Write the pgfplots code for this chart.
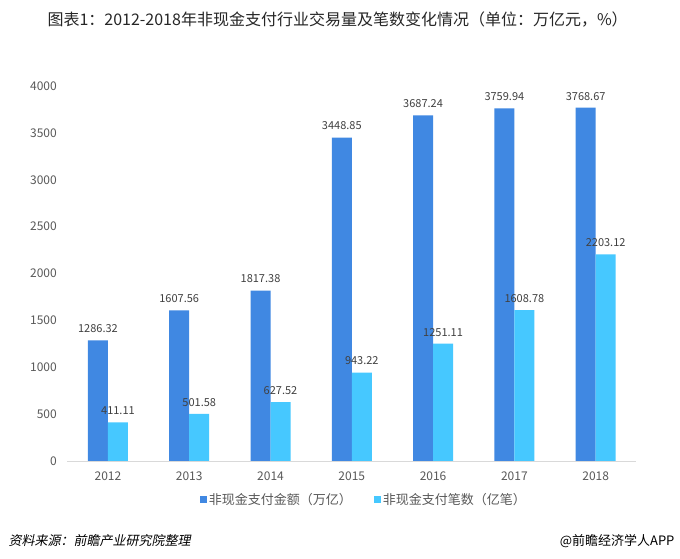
\documentclass[border=0pt]{standalone}
\usepackage{pgfplots}
\pgfplotsset{compat=1.18}
\usepackage{fontspec}
\setmainfont{Noto Sans CJK SC}
\newfontfamily\cjkit[FakeSlant=0.2]{Noto Sans CJK SC}
\definecolor{barblue}{RGB}{64,136,226}
\definecolor{barcyan}{RGB}{70,200,255}
\definecolor{ticktxt}{RGB}{89,89,89}
\definecolor{lbltxt}{RGB}{64,64,64}
\definecolor{titletxt}{RGB}{38,38,38}
\begin{document}
\begin{tikzpicture}[x=1pt,y=1pt]
\path[use as bounding box, fill=white] (0,0) rectangle (680,559);
\begin{axis}[
  at={(67.3pt,98pt)}, anchor=south west,
  scale only axis, width=569pt, height=375pt,
  xmin=-0.5, xmax=6.5, ymin=0, ymax=4000,
  axis x line*=bottom, axis y line*=left,
  x axis line style={draw=black!15, line width=0.8pt, -},
  y axis line style={draw=none},
  major tick length=0pt,
  ytick={0,500,...,4000},
  xtick={0,...,6},
  xticklabels={2012,2013,2014,2015,2016,2017,2018},
  /pgf/number format/assume math mode=true,
  /pgf/number format/1000 sep={},
  tick label style={font=\fontsize{12}{14}\selectfont, text=ticktxt},
  yticklabel style={xshift=-7pt},
  xticklabel style={yshift=-7pt},
  ybar=0pt, bar width=20pt,
  nodes near coords,
  point meta=explicit symbolic,
  every node near coord/.append style={font=\fontsize{11}{13}\selectfont, text=lbltxt, yshift=4pt},
  legend columns=2,
  legend style={at={(0.5214,-0.104)}, anchor=center, draw=none, fill=none,
    font=\fontsize{13}{15}\selectfont, text=ticktxt,
    /tikz/every even column/.append style={column sep=20pt}},
  legend image code/.code={\fill[#1] (0pt,-3.5pt) rectangle (7pt,3.5pt);},
]
\addplot[fill=barblue, draw=none] coordinates {
  (0,1286.32) [1286.32]
  (1,1607.56) [1607.56]
  (2,1817.38) [1817.38]
  (3,3448.85) [3448.85]
  (4,3687.24) [3687.24]
  (5,3759.94) [3759.94]
  (6,3768.67) [3768.67]
};
\addplot[fill=barcyan, draw=none] coordinates {
  (0,411.11) [411.11]
  (1,501.58) [501.58]
  (2,627.52) [627.52]
  (3,943.22) [943.22]
  (4,1251.11) [1251.11]
  (5,1608.78) [1608.78]
  (6,2203.12) [2203.12]
};
\legend{非现金支付金额（万亿）, 非现金支付笔数（亿笔）}
\end{axis}
\node[anchor=west, text=titletxt, font=\fontsize{16}{19}\selectfont] at (44,539) {图表1：2012-2018年非现金支付行业交易量及笔数变化情况（单位：万亿元，\%）};
\node[anchor=west, text=black, font=\fontsize{13}{15}\cjkit] at (5,18) {资料来源：前瞻产业研究院整理};
\node[anchor=east, text=black, font=\fontsize{13}{15}\selectfont] at (678,18) {@前瞻经济学人APP};
\end{tikzpicture}
\end{document}
